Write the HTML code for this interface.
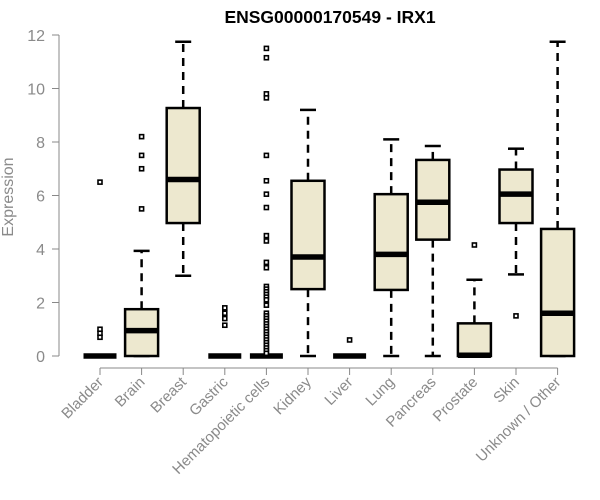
<!DOCTYPE html>
<html><head><meta charset="utf-8"><style>
html,body{margin:0;padding:0;background:#fff;}
svg{display:block;font-family:"Liberation Sans",Arial,sans-serif;}
</style></head><body>
<svg id="chart" width="600" height="500" viewBox="0 0 600 500">
<text x="330" y="23" text-anchor="middle" font-weight="bold" font-size="17.5">ENSG00000170549 - IRX1</text>
<text transform="translate(13,197) rotate(-90)" text-anchor="middle" font-size="16" fill="#8a8a8a">Expression</text>
<g id="yaxis"></g>
<g id="xaxis"></g>
<g id="boxes"></g>
</svg>
<script>
const categories=["Bladder","Brain","Breast","Gastric","Hematopoietic cells","Kidney","Liver","Lung","Pancreas","Prostate","Skin","Unknown / Other"];
const lowWhisker=[0,0,3.0,0,0,0,0,0,0,0,3.05,0];
const q1=[0,0,4.97,0,0,2.5,0,2.47,4.35,0,4.97,0];
const median=[0,0.95,6.6,0,0,3.7,0,3.8,5.75,0.03,6.05,1.6];
const q3=[0,1.75,9.27,0,0,6.55,0,6.05,7.33,1.22,6.97,4.75];
const highWhisker=[0,3.93,11.75,0,0,9.2,0,8.1,7.85,2.85,7.75,11.75];
const outliers=[
 [6.5,1.0,0.85,0.7],
 [5.5,7.0,7.5,8.2],
 [],
 [1.15,1.4,1.6,1.8],
 [11.5,11.15,9.8,9.65,7.5,6.55,6.05,5.55,4.5,4.3,3.5,3.3,2.6,2.5,2.4,2.3,2.2,2.1,1.9,1.6,1.5,1.4,1.3,1.2,1.1,1.0,0.9,0.8,0.7,0.6,0.5,0.4,0.3,0.2,0.1],
 [],
 [0.6],
 [],
 [],
 [4.15],
 [1.5],
 []
];
const yTicks=[0,2,4,6,8,10,12];
const NS="http://www.w3.org/2000/svg";
function y(v){return 356-v*26.75;}
function x(i){return 100+i*41.6;}
function mk(tag,attrs,parent){const e=document.createElementNS(NS,tag);for(const k in attrs)e.setAttribute(k,attrs[k]);parent.appendChild(e);return e;}
const ya=document.getElementById('yaxis'),xa=document.getElementById('xaxis'),bx=document.getElementById('boxes');
mk('line',{x1:59,x2:59,y1:y(12),y2:y(0),stroke:'#888','stroke-width':1},ya);
yTicks.forEach(t=>{
 const l=mk('line',{x1:52,x2:59,y1:y(t),y2:y(t),stroke:'#888'},ya);
 
 
 const tx=mk('text',{x:45,y:y(t)+6,'text-anchor':'end','font-size':16,fill:'#8a8a8a'},ya);
 tx.textContent=t;
 
 
});
mk('line',{x1:x(0),x2:x(categories.length-1),y1:368,y2:368,stroke:'#888'},xa);
categories.forEach((c,i)=>{
 const l=mk('line',{x1:x(i),x2:x(i),y1:368,y2:375,stroke:'#888'},xa);
 
 
 const tx=mk('text',{'text-anchor':'end','font-size':15,fill:'#8a8a8a',transform:`translate(${x(i)+4},${383}) rotate(-45)`},xa);
 tx.textContent=c;
 
 
});
const hw=16.5;
categories.forEach((c,i)=>{
 const g=mk('g',{},bx);
 
 
 const cx=x(i);
 if(highWhisker[i]>q3[i]){
  mk('line',{x1:cx,x2:cx,y1:y(q3[i]),y2:y(highWhisker[i]),stroke:'#000','stroke-width':2.5,'stroke-dasharray':'8,6'},g);
  mk('line',{x1:cx-8,x2:cx+8,y1:y(highWhisker[i]),y2:y(highWhisker[i]),stroke:'#000','stroke-width':2.5},g);
 }
 if(lowWhisker[i]<q1[i]){
  mk('line',{x1:cx,x2:cx,y1:y(q1[i]),y2:y(lowWhisker[i]),stroke:'#000','stroke-width':2.5,'stroke-dasharray':'8,6'},g);
 }
 if(q3[i]>q1[i]||highWhisker[i]>0){
  mk('line',{x1:cx-8,x2:cx+8,y1:y(lowWhisker[i]),y2:y(lowWhisker[i]),stroke:'#000','stroke-width':2.5},g);
 }
 mk('rect',{x:cx-hw,y:y(q3[i]),width:hw*2,height:Math.max(0,y(q1[i])-y(q3[i])),fill:'#ede8cf',stroke:'#000','stroke-width':2.5},g);
 mk('line',{x1:cx-hw,x2:cx+hw,y1:y(median[i]),y2:y(median[i]),stroke:'#000','stroke-width':5.5},g);
 outliers[i].forEach(v=>{
  const r=mk('rect',{x:cx-2,y:y(v)-2,width:4,height:4,fill:'#fff',stroke:'#000','stroke-width':1.6},g);
  
  
 });
});
</script>
</body></html>
